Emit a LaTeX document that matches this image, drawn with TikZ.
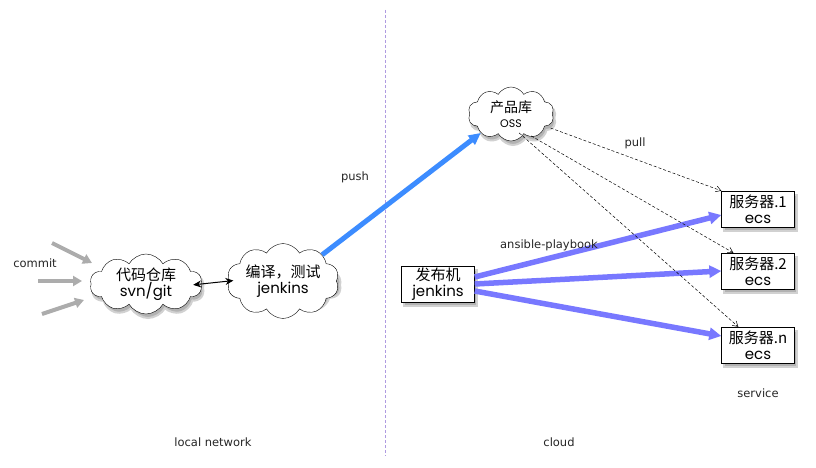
\documentclass[tikz,border=0pt]{standalone}
\usepackage{fontspec}
\setmainfont{DejaVu Sans}
\newfontfamily\cjk{Noto Sans CJK SC}
\newfontfamily\geo{Poppins}
\usetikzlibrary{shapes.symbols,arrows.meta}
\tikzset{
  cloudshape/.style={cloud, cloud puffs=10, cloud puff arc=120, aspect=1.8, inner sep=0pt},
  cloudnode/.style={cloudshape, draw, fill=white, align=center, font=\cjk\fontsize{15}{16}\selectfont},
  shadowcloud/.style={cloudshape, fill=black!30, draw=black!18, line width=2pt},
  boxnode/.style={draw, fill=white, minimum width=73pt, minimum height=36pt, inner sep=1pt, align=center, font=\cjk\fontsize{15}{16}\selectfont},
  shadowbox/.style={fill=black!30, draw=black!18, line width=2pt, minimum width=73pt, minimum height=36pt, inner sep=0pt},
  lbl/.style={font=\fontsize{11.5}{12}\selectfont, text=black!85},
  commitarrow/.style={draw=gray!65, line width=4pt, -{Triangle[length=9pt,width=10pt]}},
  pusharrow/.style={draw={rgb,255:red,60;green,140;blue,255}, line width=5pt, -{Triangle[length=12pt,width=11pt]}},
  deployarrow/.style={draw={rgb,255:red,120;green,120;blue,255}, line width=5.5pt, -{Triangle[length=12pt,width=12pt]}},
  pullarrow/.style={draw=black, dashed, dash pattern=on 3pt off 2pt, line width=0.5pt, -{Straight Barb[length=5pt,width=6pt]}},
}
\begin{document}
\begin{tikzpicture}[x=1pt,y=-1pt]
\useasboundingbox (0,0) rectangle (816,468);
\fill[white] (0,0) rectangle (816,468);
\draw[dashed, dash pattern=on 3pt off 2pt, draw={rgb,255:red,175;green,155;blue,225}, line width=0.7pt] (385,10) -- (385,456);

% shadows (drawn first, offset down-right)
\node[shadowcloud, minimum width=112pt, minimum height=60pt] (repoS) at (148,288) {};
\node[shadowcloud, minimum width=112pt, minimum height=60pt] (buildS) at (285,285) {};
\node[shadowcloud, minimum width=86pt, minimum height=54pt] (ossS) at (513,118) {};
\node[shadowbox] (pubS) at (440,288) {};
\node[shadowbox] (s1S) at (760,213) {};
\node[shadowbox] (s2S) at (760,275) {};
\node[shadowbox] (snS) at (760,349) {};

\node[cloudnode, minimum width=112pt, minimum height=60pt] (repo) at (146,284) {代码仓库\\{\geo svn/git}};
\node[cloudnode, minimum width=112pt, minimum height=60pt] (build) at (283,281) {编译，测试\\{\geo jenkins}};
\node[cloudnode, minimum width=86pt, minimum height=54pt, font=\cjk\fontsize{14}{15}\selectfont] (oss) at (511,114) {产品库\\{\geo\fontsize{11}{12}\selectfont OSS}};

\node[boxnode] (pub) at (438,284) {发布机\\{\geo jenkins}};
\node[boxnode] (s1) at (758,209) {服务器.1\\{\geo ecs}};
\node[boxnode] (s2) at (758,271) {服务器.2\\{\geo ecs}};
\node[boxnode] (sn) at (758,345) {服务器.n\\{\geo ecs}};

\coordinate (c1) at (52,243);
\coordinate (c2) at (38,281);
\coordinate (c3) at (42,314);
\draw[commitarrow] (c1) -- (92,263);
\draw[commitarrow] (c2) -- (82,281);
\draw[commitarrow] (c3) -- (84,300);

\draw[{Stealth[length=8pt,width=7pt]}-{Stealth[length=8pt,width=7pt]}, line width=1pt, shorten <=-8pt, shorten >=-4pt] (repo.east) -- (build.west);
\draw[pusharrow] (build.north east) -- (oss.south west);

\draw[deployarrow] (pub.east) ++(0,-7) -- (s1.west |- 0,215);
\draw[deployarrow] (pub.east) -- (s2.west);
\draw[deployarrow] (pub.east) ++(0,7) -- (s2.west |- 0,336);

\draw[pullarrow] (oss.east) ++(-2,14) -- (s1.north west);
\draw[pullarrow] ([xshift=-10pt,yshift=-3pt]oss.south east) -- ([xshift=12pt]s2.north west);
\draw[pullarrow] ([xshift=-22pt,yshift=0pt]oss.south east) -- ([xshift=17pt]sn.north west);

\node[lbl] (lcommit) at (35,263) {commit};
\node[lbl] (lpush) at (355,177) {push};
\node[lbl] (lpull) at (635,143) {pull};
\node[lbl] (lans) at (549,245) {ansible-playbook};
\node[lbl] (lserv) at (758,393) {service};
\node[lbl] (llocal) at (213,442) {local network};
\node[lbl] (lcloud) at (559,442) {cloud};
\end{tikzpicture}
\end{document}
